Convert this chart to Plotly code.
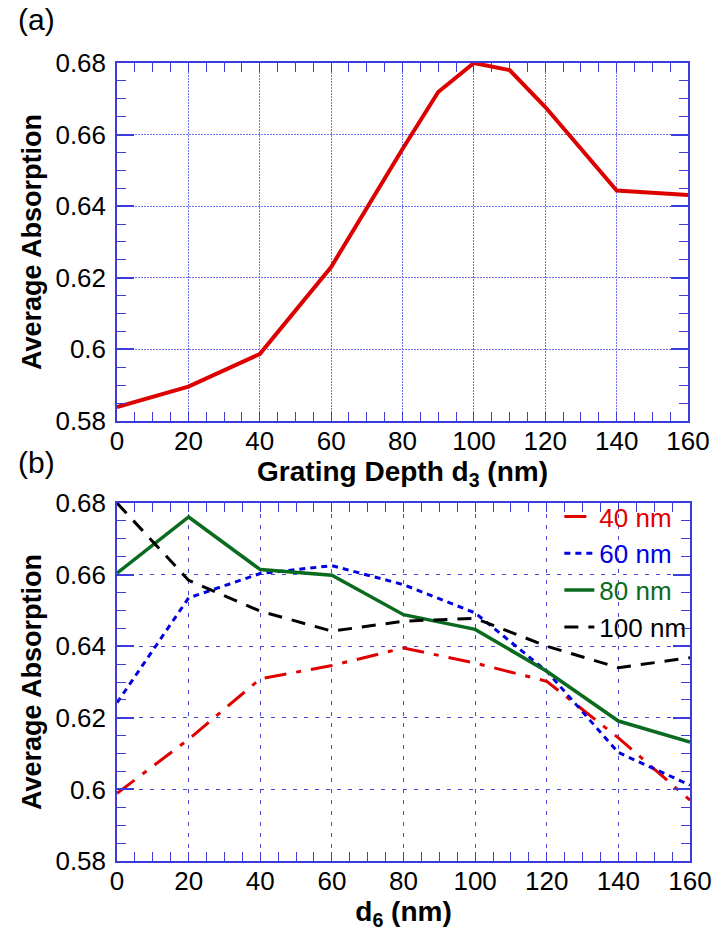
import plotly.graph_objects as go

# ---- data ----
d3 = [0, 20, 40, 60, 80, 90, 100, 110, 120, 140, 160]
abs_a = [0.5839, 0.5896, 0.5987, 0.6230, 0.6560, 0.6719, 0.6800, 0.6780, 0.6677, 0.6444, 0.6431]

d6 = [0, 20, 40, 60, 80, 100, 120, 140, 160]
abs_40 = [0.5989, 0.6140, 0.6309, 0.6346, 0.6395, 0.6353, 0.6302, 0.6144, 0.5970]
abs_60 = [0.6242, 0.6535, 0.6603, 0.6625, 0.6572, 0.6493, 0.6330, 0.6103, 0.6012]
abs_80 = [0.6604, 0.6761, 0.6614, 0.6598, 0.6488, 0.6447, 0.6330, 0.6191, 0.6132]
abs_100 = [0.6800, 0.6584, 0.6498, 0.6442, 0.6470, 0.6478, 0.6400, 0.6340, 0.6368]

series_names = ["40 nm", "60 nm", "80 nm", "100 nm"]
series_colors = ["#e00000", "#0000e0", "#0a6a1e", "#000000"]
series_dash = ["22px,10px,5px,10px", "6px,5px", "solid", "14px,10px"]
series_vals = [abs_40, abs_60, abs_80, abs_100]

x_ticks = [0, 20, 40, 60, 80, 100, 120, 140, 160]
y_ticks = [0.58, 0.6, 0.62, 0.64, 0.66, 0.68]
y_ticklabels = ["0.58", "0.6", "0.62", "0.64", "0.66", "0.68"]

FONT = "Liberation Sans, Arial, sans-serif"
FRAME = "#3c3cdc"

fig = go.Figure()

fig.add_trace(go.Scatter(x=d3, y=abs_a, mode="lines", xaxis="x", yaxis="y",
                         line=dict(color="#dd0000", width=4), showlegend=False))

for name, col, dash, vals in zip(series_names, series_colors, series_dash, series_vals):
    fig.add_trace(go.Scatter(
        x=d6, y=vals, mode="lines", xaxis="x2", yaxis="y2",
        name=f"<span style='color:{col}'>{name}</span>",
        line=dict(color=col, width=3.5 if dash == "solid" else 3, dash=dash)))


def xaxis(domain, anchor, title, grid_dash, grid_color):
    return dict(domain=domain, anchor=anchor, range=[0, 160], tickvals=x_ticks,
                showline=True, linecolor=FRAME, linewidth=1.5, mirror="allticks",
                ticks="inside", ticklen=9, tickcolor=FRAME, tickwidth=1.2,
                minor=dict(dtick=5, tick0=0, ticks="inside", ticklen=9, tickcolor=FRAME, tickwidth=1.2),
                showgrid=True, gridcolor=grid_color, griddash=grid_dash, gridwidth=1,
                zeroline=False, ticklabelstandoff=-4,
                tickfont=dict(family=FONT, size=26, color="black"),
                title=dict(text=title, font=dict(family=FONT, size=28, color="black"), standoff=0))


def yaxis(domain, anchor, grid_dash, grid_color):
    return dict(domain=domain, anchor=anchor, range=[0.58, 0.68], tickvals=y_ticks,
                ticktext=y_ticklabels,
                showline=True, linecolor=FRAME, linewidth=1.5, mirror="allticks",
                ticks="inside", ticklen=17, tickcolor=FRAME, tickwidth=1.5,
                minor=dict(dtick=0.005, tick0=0.58, ticks="inside", ticklen=9, tickcolor=FRAME, tickwidth=1.2),
                showgrid=True, gridcolor=grid_color, griddash=grid_dash, gridwidth=1,
                zeroline=False, ticklabelstandoff=4,
                tickfont=dict(family=FONT, size=26, color="black"),
                title=dict(text="<b>Average Absorption</b>", font=dict(family=FONT, size=27, color="black"),
                           standoff=6))


fig.update_layout(
    width=724, height=935,
    margin=dict(l=117, r=24, t=63, b=74),
    paper_bgcolor="white", plot_bgcolor="white",
    font=dict(family=FONT, color="black"),
    xaxis=xaxis([0, 0.9966], "y", "<b>Grating Depth d<sub>3</sub> (nm)</b>", "2px,1px", "#7070f4"),
    yaxis=yaxis([0.5514, 1.0], "x", "2px,1px", "#7070f4"),
    xaxis2=xaxis([0, 1], "y2", "<b>d<sub>6</sub> (nm)</b>", "4px,7px", "#4a4ad8"),
    yaxis2=yaxis([0, 0.4486], "x2", "4px,7px", "#4a4ad8"),
    legend=dict(x=0.772, y=0.461, xanchor="left", yanchor="top",
                bgcolor="rgba(0,0,0,0)", borderwidth=0,
                font=dict(family=FONT, size=26), tracegroupgap=0),
    showlegend=True,
    annotations=[
        dict(text="(a)", xref="paper", yref="paper", x=-0.176, y=1.054, xanchor="left", yanchor="middle",
             showarrow=False, font=dict(family=FONT, size=30, color="black")),
        dict(text="(b)", xref="paper", yref="paper", x=-0.176, y=0.5, xanchor="left", yanchor="middle",
             showarrow=False, font=dict(family=FONT, size=30, color="black")),
    ],
)

fig.write_html("out.html")
